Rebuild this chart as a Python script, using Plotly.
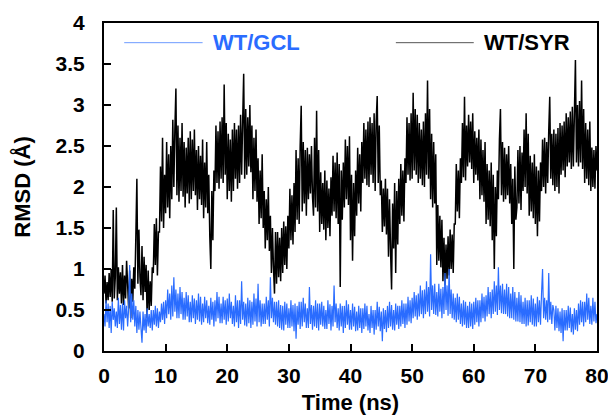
import plotly.graph_objects as go

# time axis: six readings per ns, 0 to 80 ns
time_ns = [i / 6 for i in range(481)]

# WT/SYR RMSD (A), one row of six readings per ns
rmsd_syr = [
    0.70, 0.92, 0.58, 0.84, 0.62, 0.95,
    0.66, 1.00, 0.60, 1.72, 0.64, 0.90,
    1.75, 0.62, 1.02, 0.70, 0.96, 0.58,
    1.05, 0.56, 0.92, 0.64, 1.10, 0.70,
    0.52, 0.98, 0.40, 0.88, 0.60, 1.02,
    0.76, 1.40, 2.10, 0.82, 1.48, 0.90,
    0.68, 1.28, 0.62, 1.15, 0.72, 1.05,
    0.40, 0.98, 0.50, 0.85, 0.55, 1.02,
    0.95, 1.55, 1.05, 1.62, 0.92, 1.45,
    1.45, 2.25, 1.58, 2.60, 1.50, 2.15,
    1.68, 2.55, 1.75, 2.40, 1.62, 2.50,
    1.85, 2.82, 2.00, 2.70, 3.20, 1.90,
    2.75, 1.82, 2.60, 1.95, 2.78, 1.88,
    2.55, 1.75, 2.48, 1.92, 2.60, 1.80,
    2.68, 1.85, 2.58, 1.95, 2.70, 1.90,
    2.45, 1.72, 2.50, 1.85, 2.38, 1.78,
    2.58, 1.62, 2.30, 1.75, 2.55, 1.68,
    2.15, 1.40, 1.00, 1.95, 1.35, 2.20,
    1.95, 2.75, 2.05, 2.68, 1.98, 2.80,
    2.10, 2.85, 2.05, 3.25, 2.15, 2.78,
    1.85, 2.65, 1.95, 2.58, 1.82, 2.70,
    1.95, 2.78, 2.10, 2.70, 1.98, 2.75,
    2.05, 2.88, 2.15, 2.80, 3.38, 2.10,
    2.95, 2.15, 2.85, 2.25, 3.00, 2.18,
    2.75, 1.85, 2.60, 1.95, 2.70, 1.82,
    2.35, 1.55, 2.20, 1.62, 2.40, 1.50,
    1.95, 1.25, 1.85, 1.35, 2.00, 1.22,
    1.65, 0.95, 1.50, 1.02, 0.70, 1.45,
    0.82, 1.45, 0.90, 1.38, 0.85, 1.50,
    0.95, 1.58, 1.05, 1.52, 1.00, 1.65,
    1.25, 1.98, 1.35, 1.90, 1.30, 2.05,
    1.45, 2.45, 1.60, 2.35, 1.55, 2.50,
    2.99, 1.70, 2.55, 1.80, 2.45, 1.65,
    2.48, 1.85, 2.40, 1.92, 2.50, 1.88,
    1.65, 2.60, 1.75, 2.93, 1.70, 2.45,
    1.45, 2.18, 1.55, 2.05, 1.48, 2.20,
    1.35, 2.08, 1.50, 1.98, 1.40, 2.12,
    1.65, 2.38, 1.70, 2.30, 1.62, 2.42,
    1.55, 2.28, 0.78, 2.20, 1.60, 2.30,
    1.75, 2.58, 1.85, 2.50, 1.78, 2.62,
    1.35, 2.15, 1.10, 2.05, 1.40, 2.20,
    1.65, 2.48, 1.80, 2.40, 1.70, 2.55,
    2.05, 2.78, 2.10, 2.70, 2.02, 2.80,
    2.00, 2.85, 2.15, 2.78, 2.05, 2.90,
    1.95, 2.80, 3.11, 2.05, 2.75, 1.90,
    2.08, 1.45, 1.98, 1.52, 2.10, 1.42,
    1.98, 1.15, 1.85, 1.22, 0.75, 1.80,
    1.25, 2.05, 0.95, 1.95, 1.30, 2.10,
    1.55, 2.28, 1.65, 2.20, 1.58, 2.35,
    2.05, 2.85, 2.15, 2.78, 2.08, 2.90,
    2.10, 3.15, 2.20, 2.95, 2.15, 2.88,
    2.05, 2.78, 2.10, 2.70, 2.02, 2.80,
    2.00, 2.90, 2.15, 3.30, 2.10, 2.95,
    1.85, 2.65, 1.75, 2.55, 1.80, 2.40,
    1.05, 1.78, 1.10, 1.65, 1.02, 1.60,
    0.85, 1.38, 0.80, 1.30, 0.88, 1.40,
    0.92, 1.48, 1.00, 1.42, 0.95, 1.55,
    1.55, 2.28, 1.70, 2.20, 1.62, 2.35,
    2.05, 2.78, 2.12, 3.10, 2.08, 2.75,
    2.25, 2.88, 2.30, 2.80, 2.22, 2.90,
    2.05, 2.68, 2.15, 2.60, 2.08, 2.70,
    1.85, 2.58, 1.90, 2.45, 1.82, 2.55,
    1.55, 2.28, 1.60, 2.20, 1.52, 2.30,
    1.35, 2.15, 1.00, 2.00, 1.40, 2.20,
    1.85, 2.58, 2.95, 1.90, 2.55, 1.82,
    2.48, 1.85, 2.40, 1.90, 2.50, 1.80,
    2.28, 1.55, 2.10, 1.00, 2.25, 1.60,
    1.75, 2.45, 1.80, 2.50, 1.72, 2.42,
    1.95, 2.70, 2.00, 2.90, 1.92, 2.65,
    1.65, 2.38, 1.70, 2.30, 1.62, 2.40,
    1.55, 2.25, 1.40, 2.20, 1.58, 2.30,
    1.95, 2.58, 2.00, 2.60, 1.92, 2.55,
    2.05, 2.68, 3.10, 2.10, 2.65, 2.02,
    2.70, 1.95, 2.65, 2.00, 2.72, 1.92,
    2.78, 2.15, 2.75, 2.20, 2.80, 2.12,
    2.90, 2.25, 2.85, 2.30, 2.92, 2.22,
    2.98, 2.25, 2.90, 3.55, 2.30, 3.00,
    2.25, 3.05, 2.30, 3.30, 2.22, 2.95,
    2.05, 2.78, 2.10, 2.70, 2.02, 2.80,
    1.95, 2.48, 2.00, 2.45, 1.98, 2.50,
    2.20,
]

# WT/GCL RMSD (A), one row of six readings per ns
rmsd_gcl = [
    0.45, 0.30, 0.62, 0.35, 0.58, 0.28,
    0.55, 0.22, 0.60, 0.38, 0.52, 0.30,
    0.48, 0.28, 0.65, 0.33, 0.56, 0.26,
    0.58, 0.25, 0.62, 0.40, 0.55, 0.30,
    0.52, 1.05, 0.35, 0.70, 0.38, 0.62,
    0.30, 0.55, 0.22, 0.50, 0.26, 0.48,
    0.28, 0.10, 0.48, 0.25, 0.45, 0.22,
    0.52, 0.30, 0.45, 0.28, 0.50, 0.25,
    0.50, 0.32, 0.55, 0.30, 0.52, 0.28,
    0.48, 0.35, 0.58, 0.38, 0.60, 0.33,
    0.62, 0.40, 0.75, 0.45, 0.70, 0.38,
    0.80, 0.42, 0.90, 0.48, 0.75, 0.40,
    0.70, 0.40, 0.78, 0.45, 0.72, 0.38,
    0.65, 0.38, 0.72, 0.42, 0.68, 0.35,
    0.60, 0.35, 0.68, 0.40, 0.64, 0.33,
    0.62, 0.38, 0.70, 0.36, 0.66, 0.32,
    0.58, 0.35, 0.66, 0.40, 0.62, 0.34,
    0.55, 0.32, 0.65, 0.38, 0.60, 0.30,
    0.62, 0.36, 0.72, 0.40, 0.66, 0.34,
    0.58, 0.34, 0.66, 0.38, 0.62, 0.32,
    0.64, 0.36, 0.70, 0.40, 0.60, 0.33,
    0.55, 0.30, 0.68, 0.35, 0.62, 0.28,
    0.62, 0.33, 0.85, 0.38, 0.60, 0.31,
    0.58, 0.30, 0.65, 0.34, 0.62, 0.28,
    0.60, 0.32, 0.70, 0.36, 0.64, 0.30,
    0.82, 0.35, 0.62, 0.30, 0.58, 0.33,
    0.58, 0.33, 0.66, 0.38, 0.62, 0.30,
    0.90, 0.40, 0.65, 0.35, 0.60, 0.32,
    0.60, 0.30, 0.62, 0.28, 0.56, 0.26,
    0.55, 0.25, 0.60, 0.32, 0.58, 0.28,
    0.52, 0.28, 0.62, 0.30, 0.56, 0.24,
    0.58, 0.15, 0.55, 0.32, 0.60, 0.27,
    0.60, 0.30, 0.65, 0.35, 0.58, 0.28,
    0.52, 0.28, 0.78, 0.33, 0.56, 0.26,
    0.55, 0.30, 0.62, 0.28, 0.58, 0.25,
    0.58, 0.32, 0.60, 0.30, 0.55, 0.27,
    0.50, 0.27, 0.62, 0.33, 0.57, 0.25,
    0.55, 0.30, 0.80, 0.35, 0.58, 0.28,
    0.52, 0.25, 0.58, 0.30, 0.55, 0.22,
    0.55, 0.28, 0.62, 0.32, 0.57, 0.26,
    0.50, 0.26, 0.58, 0.30, 0.54, 0.24,
    0.48, 0.25, 0.55, 0.28, 0.52, 0.22,
    0.52, 0.27, 0.58, 0.30, 0.55, 0.25,
    0.45, 0.22, 0.55, 0.28, 0.50, 0.20,
    0.50, 0.26, 0.60, 0.30, 0.54, 0.24,
    0.48, 0.12, 0.52, 0.27, 0.50, 0.23,
    0.55, 0.28, 0.60, 0.30, 0.56, 0.26,
    0.50, 0.25, 0.58, 0.32, 0.55, 0.27,
    0.55, 0.30, 0.62, 0.33, 0.58, 0.28,
    0.58, 0.32, 0.66, 0.36, 0.62, 0.34,
    0.65, 0.40, 0.72, 0.42, 0.68, 0.38,
    0.70, 0.42, 0.80, 0.45, 0.74, 0.40,
    0.75, 0.45, 0.85, 0.48, 0.78, 0.42,
    1.18, 0.50, 0.80, 0.45, 0.82, 0.44,
    0.72, 0.42, 0.82, 0.48, 0.76, 0.40,
    0.78, 0.45, 0.95, 0.50, 0.80, 0.43,
    1.00, 0.45, 0.75, 0.40, 0.70, 0.38,
    0.65, 0.35, 0.70, 0.38, 0.66, 0.33,
    0.58, 0.30, 0.62, 0.32, 0.60, 0.28,
    0.55, 0.28, 0.60, 0.30, 0.58, 0.27,
    0.60, 0.32, 0.65, 0.35, 0.62, 0.30,
    0.62, 0.35, 0.70, 0.40, 0.66, 0.36,
    0.68, 0.42, 0.78, 0.45, 0.72, 0.40,
    0.75, 0.45, 0.85, 0.48, 0.80, 0.44,
    1.02, 0.50, 0.80, 0.46, 0.82, 0.45,
    0.75, 0.45, 0.82, 0.42, 0.78, 0.40,
    0.70, 0.40, 0.78, 0.38, 0.72, 0.36,
    0.65, 0.36, 0.72, 0.35, 0.68, 0.33,
    0.60, 0.33, 0.65, 0.30, 0.62, 0.31,
    0.62, 0.35, 0.68, 0.32, 0.64, 0.30,
    0.58, 0.30, 0.66, 0.35, 0.62, 0.32,
    0.70, 1.00, 0.40, 0.65, 0.38, 0.62,
    0.35, 0.95, 0.38, 0.60, 0.33, 0.56,
    0.50, 0.25, 0.55, 0.28, 0.52, 0.24,
    0.48, 0.22, 0.52, 0.12, 0.50, 0.25,
    0.50, 0.25, 0.55, 0.28, 0.53, 0.23,
    0.45, 0.20, 0.52, 0.26, 0.50, 0.24,
    0.58, 0.32, 0.62, 0.35, 0.60, 0.30,
    0.60, 0.35, 0.70, 0.38, 0.65, 0.33,
    0.55, 0.32, 0.65, 0.36, 0.60, 0.34,
    0.45,
]

x_ticks = [0, 10, 20, 30, 40, 50, 60, 70, 80]
y_ticks = [0, 0.5, 1, 1.5, 2, 2.5, 3, 3.5, 4]
y_tick_labels = ["0", "0.5", "1", "1.5", "2", "2.5", "3", "3.5", "4"]

BLUE = "#2a6cff"
FONT = "Liberation Sans, Arial, sans-serif"

fig = go.Figure()
fig.add_trace(go.Scatter(x=time_ns, y=rmsd_syr, mode="lines", name="WT/SYR",
                         line=dict(color="black", width=1.5)))
fig.add_trace(go.Scatter(x=time_ns, y=rmsd_gcl, mode="lines", name="WT/GCL",
                         line=dict(color=BLUE, width=1.2)))

axis_style = dict(showline=True, linecolor="black", linewidth=2, mirror=True,
                  ticks="inside", ticklen=7, tickwidth=2, tickcolor="black",
                  showgrid=False, zeroline=False, automargin=False,
                  ticklabeloverflow="allow",
                  tickfont=dict(family=FONT, size=21, color="black", weight="bold"))

fig.update_xaxes(range=[0, 80], tickvals=x_ticks, ticklabelstandoff=5,
                 title=dict(text="<b>Time (ns)</b>", standoff=14,
                            font=dict(family=FONT, size=22, color="black")),
                 **axis_style)
fig.update_yaxes(range=[0, 4], tickvals=y_ticks, ticktext=y_tick_labels, ticklabelstandoff=13,
                 title=dict(text="<b>RMSD (Å)</b>", standoff=19,
                            font=dict(family=FONT, size=22, color="black")),
                 **axis_style)

# legend drawn as line samples + labels, as in the original figure
fig.add_shape(type="line", xref="paper", yref="paper", x0=0.041, x1=0.200, y0=0.94, y1=0.94,
              line=dict(color="#6d9bff", width=1))
fig.add_shape(type="line", xref="paper", yref="paper", x0=0.592, x1=0.750, y0=0.94, y1=0.94,
              line=dict(color="#555555", width=1))
fig.add_annotation(xref="paper", yref="paper", x=0.217, y=0.94, xanchor="left", yanchor="middle",
                   text="<b>WT/GCL</b>", showarrow=False,
                   font=dict(family=FONT, size=22, color=BLUE))
fig.add_annotation(xref="paper", yref="paper", x=0.767, y=0.94, xanchor="left", yanchor="middle",
                   text="<b>WT/SYR</b>", showarrow=False,
                   font=dict(family=FONT, size=22, color="black"))

fig.update_layout(width=608, height=415, showlegend=False,
                  margin=dict(l=104, r=11, t=23, b=64),
                  paper_bgcolor="white", plot_bgcolor="white")

# drop the page's default body margin so the figure sits at the window's corner
fig.write_html("out.html", config={"displayModeBar": False},
               post_script="document.body.style.margin='0';")
